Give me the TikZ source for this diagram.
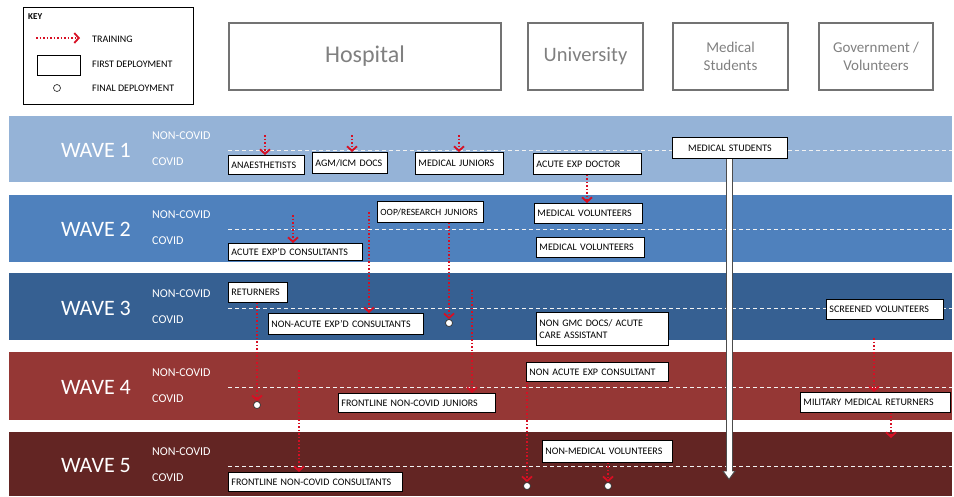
\documentclass[tikz,border=0pt]{standalone}
\usepackage{fontspec}
\setmainfont{Carlito}
\usetikzlibrary{arrows.meta,positioning}

\definecolor{waveA}{RGB}{149,179,215}
\definecolor{waveB}{RGB}{79,129,189}
\definecolor{waveC}{RGB}{54,96,146}
\definecolor{waveD}{RGB}{149,55,53}
\definecolor{waveE}{RGB}{99,37,35}
\definecolor{trainred}{RGB}{215,15,35}

\tikzset{
  post/.style={draw=black, fill=white, line width=0.9pt, anchor=north west,
    align=left, inner xsep=3pt, inner ysep=0pt,
    font=\fontsize{10}{11.5}\selectfont},
  source/.style={draw=black!55, line width=2pt, anchor=north west, align=center,
    text=black!50},
  final/.style={circle, draw=black!80, fill=white, line width=0.7pt,
    minimum size=7pt, inner sep=0pt},
  train/.style={draw=trainred, dotted, line width=1.5pt,
    -{Straight Barb[length=4.5pt, width=10pt, line width=1.8pt]}},
  dashline/.style={draw=white!90!gray, dashed, dash pattern=on 4pt off 3pt, line width=1pt},
}

\begin{document}
\begin{tikzpicture}[x=1pt, y=-1pt, every node/.style={inner sep=0pt}]
\useasboundingbox (0,0) rectangle (954,496);

% key
\draw[line width=0.8pt] (23,7) rectangle (193,104);
\begin{scope}[every node/.style={anchor=west, inner sep=0pt, font=\fontsize{10}{12}\selectfont}]
\node[font=\bfseries\fontsize{9}{10}\selectfont] (keytitle) at (28,17) {KEY};
\node (keytrain) at (92,39) {TRAINING};
\node (keyfirst) at (92,64) {FIRST DEPLOYMENT};
\node (keyfinal) at (92,88) {FINAL DEPLOYMENT};
\end{scope}
\coordinate (KA) at (36,38);
\coordinate (KB) at (80,38);
\draw[train] (KA) -- (KB);
\node[draw, line width=0.8pt, minimum width=43pt, minimum height=20pt, anchor=north west] (keybox) at (37,55) {};
\node[final] (keydot) at (57,88) {};

% sources
\node[source, minimum width=272pt, minimum height=67pt, font=\fontsize{24}{28}\selectfont] (hosp) at (228,22) {Hospital};
\node[source, minimum width=115pt, minimum height=67pt, font=\fontsize{20.5}{24}\selectfont] (uni) at (527,22) {University};
\node[source, minimum width=115pt, minimum height=67pt, font=\fontsize{15}{18}\selectfont] (medsrc) at (672,22) {Medical\\Students};
\node[source, minimum width=114pt, minimum height=67pt, font=\fontsize{15}{18}\selectfont] (govsrc) at (818,22) {Government /\\Volunteers};

% waves
\foreach \n/\top/\bot/\mid/\col in {1/116/182/150/waveA, 2/195/262/229/waveB,
    3/273/340/308/waveC, 4/352/420/387/waveD, 5/432/496/466/waveE} {
  \fill[\col] (9,\top) rectangle (952,\bot);
  \draw[dashline] (228,\mid) -- (952,\mid);
  \node[text=white, font=\fontsize{22}{26}\selectfont] (wave\n) at (96,\mid) {WAVE \n};
  \node[text=white, anchor=west, font=\fontsize{12}{14}\selectfont] (noncovid\n) at (152,\mid-14) {NON-COVID};
  \node[text=white, anchor=west, font=\fontsize{12}{14}\selectfont] (covid\n) at (152,\mid+12) {COVID};
}

% first deployments
\node[post, text width=70pt, minimum height=19pt] (anaes) at (228,155) {ANAESTHETISTS};
\node[post, text width=69pt, minimum height=21pt] (agm) at (312,152) {AGM/ICM DOCS};
\node[post, text width=82pt, minimum height=22pt] (medjun) at (415,152) {MEDICAL JUNIORS};
\node[post, text width=102pt, minimum height=21pt] (acutedoc) at (533,153) {ACUTE EXP DOCTOR};
\node[post, text width=109pt, minimum height=21pt, align=center] (medstud) at (672,137) {MEDICAL STUDENTS};
\node[post, text width=100pt, minimum height=21pt, font=\fontsize{9.5}{11}\selectfont] (oop) at (377,201) {OOP/RESEARCH JUNIORS};
\node[post, text width=102pt, minimum height=20pt] (medvolA) at (534,203) {MEDICAL VOLUNTEERS};
\node[post, text width=102pt, minimum height=20pt] (medvolB) at (536,237) {MEDICAL VOLUNTEERS};
\node[post, text width=128pt, minimum height=17pt] (acutecons) at (228,243) {ACUTE EXP'D CONSULTANTS};
\node[post, text width=53pt, minimum height=20pt] (returners) at (228,282) {RETURNERS};
\node[post, text width=149pt, minimum height=21pt] (nonacute) at (268,313) {NON-ACUTE EXP'D CONSULTANTS};
\node[post, text width=126pt, minimum height=33pt] (nongmc) at (536,312) {NON GMC DOCS/ ACUTE\\CARE ASSISTANT};
\node[post, text width=111pt, minimum height=20pt] (screened) at (826,299) {SCREENED VOLUNTEERS};
\node[post, text width=136pt, minimum height=19pt] (nonacuteexp) at (526,362) {NON ACUTE EXP CONSULTANT};
\node[post, text width=151pt, minimum height=19pt] (fljun) at (338,393) {FRONTLINE NON-COVID JUNIORS};
\node[post, text width=144pt, minimum height=20pt] (military) at (800,392) {MILITARY MEDICAL RETURNERS};
\node[post, text width=168pt, minimum height=19pt] (flcons) at (228,472) {FRONTLINE NON-COVID CONSULTANTS};
\node[post, text width=124pt, minimum height=22pt] (nonmedvol) at (542,440) {NON-MEDICAL VOLUNTEERS};

% final deployments
\node[final] (endA) at (449,323) {};
\node[final] (endB) at (257,405) {};
\node[final] (endC) at (527,486) {};
\node[final] (endD) at (608,486) {};

% training
\coordinate (T1) at (265,135);
\coordinate (T2) at (352,135);
\coordinate (T3) at (459,135);
\coordinate (T4) at (587,0);
\coordinate (T5) at (293,215);
\coordinate (T6) at (369,212);
\coordinate (T7) at (472,290);
\coordinate (T8) at (874,338);
\coordinate (T9) at (299,370);
\coordinate (T10) at (891,438);

\draw[train] (T1) -- (T1 |- anaes.north);
\draw[train] (T2) -- (T2 |- agm.north);
\draw[train] (T3) -- (T3 |- medjun.north);
\draw[train] (T4 |- acutedoc.south) -- (T4 |- medvolA.north);
\draw[train] (T5) -- (T5 |- acutecons.north);
\draw[train] (T6) -- (T6 |- nonacute.north);
\draw[train] (endA |- oop.south) -- (endA.north);
\draw[train] (endB |- returners.south) -- (endB.north);
\draw[train] (T7) -- (T7 |- fljun.north);
\draw[train] (T8) -- (T8 |- military.north);
\draw[train] (T9) -- (T9 |- flcons.north);
\draw[train] (endC |- nonacuteexp.south) -- (endC.north);
\draw[train] (T10 |- military.south) -- (T10);
\draw[train] (endD |- nonmedvol.south) -- (endD.north);

% medical students run through
\coordinate (MS) at (729,480);
\draw[black!70, line width=7pt, -{Triangle[length=9pt, width=13pt]}] (MS |- medstud.south) -- (MS);
\draw[white, line width=5pt, -{Triangle[length=7pt, width=9.5pt]}] (MS |- medstud.south) -- ([yshift=1.6pt]MS);

\end{tikzpicture}
\end{document}
